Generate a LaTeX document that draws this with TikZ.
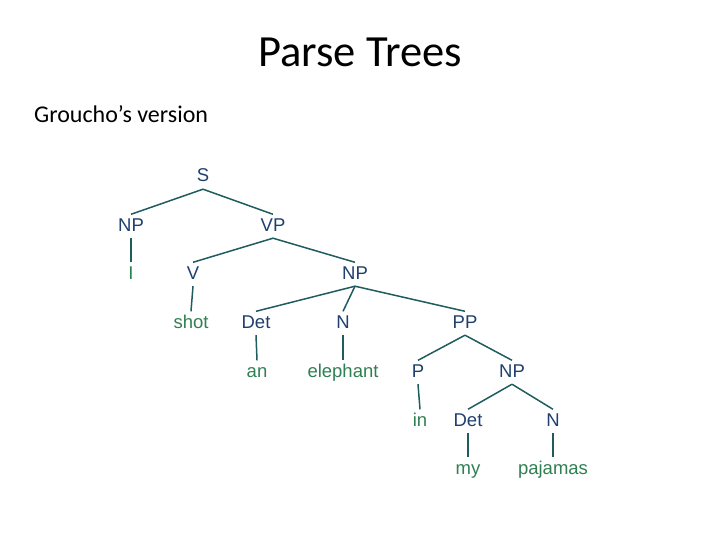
\documentclass[tikz,border=0pt]{standalone}
\usepackage{fontspec}
\setmainfont{Carlito}
\newfontfamily\treefont{Liberation Sans}
\definecolor{ntcol}{HTML}{1F3F6E}
\definecolor{tcol}{HTML}{2F7F52}
\definecolor{edgecol}{HTML}{1F5C5E}
\tikzset{
  base/.style={anchor=base, font=\treefont\fontsize{18.5}{18.5}\selectfont, text height=13.5pt, text depth=4pt, inner xsep=1pt, inner ysep=3pt},
  nt/.style={base, text=ntcol},
  tm/.style={base, text=tcol},
  edge/.style={draw=edgecol, line width=1.5pt},
}
\begin{document}
\begin{tikzpicture}[x=1pt,y=-1pt]
\useasboundingbox (0,0) rectangle (720,540);
\node[anchor=base, font=\fontsize{44.5}{44.5}\selectfont] (title) at (360,67) {Parse Trees};
\node[anchor=base west, font=\fontsize{24}{24}\selectfont, inner sep=0pt] (sub) at (34,123) {Groucho’s version};
% row 1
\node[nt] (S) at (203,182) {S};
% row 2
\node[nt] (NPa) at (131,231) {NP};
\node[nt] (VP) at (273,231) {VP};
% row 3
\node[tm] (I) at (131,279) {I};
\node[nt] (V) at (193,279) {V};
\node[nt] (NPb) at (355,279) {NP};
% row 4
\node[tm] (shot) at (191,328) {shot};
\node[nt] (Deta) at (256,328) {Det};
\node[nt] (Na) at (343,328) {N};
\node[nt] (PP) at (465,328) {PP};
% row 5
\node[tm] (an) at (257,377) {an};
\node[tm] (eleph) at (343,377) {elephant};
\node[nt] (P) at (418,377) {P};
\node[nt] (NPc) at (512,377) {NP};
% row 6
\node[tm] (in) at (420,426) {in};
\node[nt] (Detb) at (468,426) {Det};
\node[nt] (Nb) at (553,426) {N};
% row 7
\node[tm] (my) at (468,474) {my};
\node[tm] (paj) at (553,474) {pajamas};
% edges
\draw[edge] (S.south) -- (NPa.north);
\draw[edge] (S.south) -- (VP.north);
\draw[edge] (NPa.south) -- (I.north);
\draw[edge] (VP.south) -- (V.north);
\draw[edge] (VP.south) -- (NPb.north);
\draw[edge] (V.south) -- (shot.north);
\draw[edge] (NPb.south) -- (Deta.north);
\draw[edge] (NPb.south) -- (Na.north);
\draw[edge] (NPb.south) -- (PP.north);
\draw[edge] (Deta.south) -- (an.north);
\draw[edge] (Na.south) -- (eleph.north);
\draw[edge] (PP.south) -- (P.north);
\draw[edge] (PP.south) -- (NPc.north);
\draw[edge] (P.south) -- (in.north);
\draw[edge] (NPc.south) -- (Detb.north);
\draw[edge] (NPc.south) -- (Nb.north);
\draw[edge] (Detb.south) -- (my.north);
\draw[edge] (Nb.south) -- (paj.north);
\end{tikzpicture}
\end{document}
